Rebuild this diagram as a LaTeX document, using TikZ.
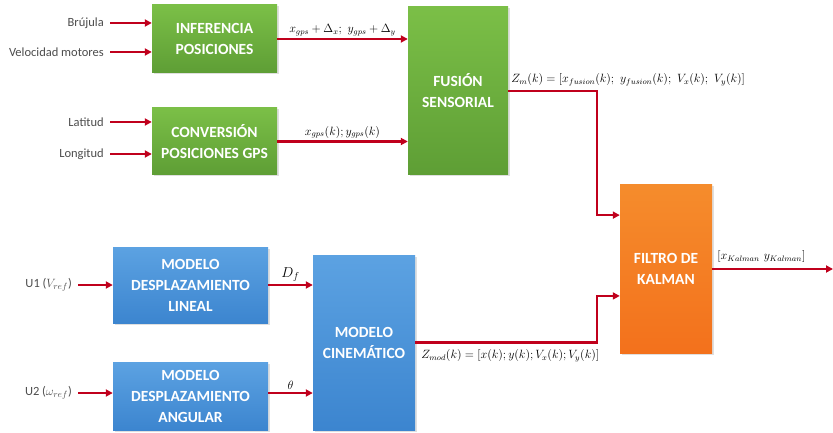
\documentclass[tikz,border=0pt]{standalone}
\usepackage{fontspec}
\setsansfont{Carlito}
\usepackage{amsmath}
\usetikzlibrary{arrows.meta, positioning, calc, shadows}
\definecolor{fusGreenTop}{HTML}{7BBF47}
\definecolor{fusGreenBot}{HTML}{5E9E35}
\definecolor{modBlueTop}{HTML}{5CA2E2}
\definecolor{modBlueBot}{HTML}{3C85CF}
\definecolor{kalOrangeTop}{HTML}{F58C2C}
\definecolor{kalOrangeBot}{HTML}{F3711C}
\definecolor{flowRed}{HTML}{C0001C}

\begin{document}
\begin{tikzpicture}[x=1pt, y=-1pt,
    block/.style={rectangle, align=center, inner sep=2pt,
      font=\sffamily\bfseries\fontsize{15.5}{21}\selectfont\color{white},
      drop shadow={shadow xshift=1.5pt, shadow yshift=-1.5pt, opacity=.25}},
    gblock/.style={block, top color=fusGreenTop, bottom color=fusGreenBot},
    bblock/.style={block, top color=modBlueTop, bottom color=modBlueBot},
    oblock/.style={block, top color=kalOrangeTop, bottom color=kalOrangeBot},
    lbl/.style={font=\sffamily\fontsize{12.5}{14}\selectfont\color{black!70}, inner sep=2pt},
    mlbl/.style={font=\fontsize{12}{14}\selectfont, inner sep=2pt},
    flow/.style={draw=flowRed, line width=2.2pt,
      -{Triangle[length=7pt, width=7pt]}}]
  \useasboundingbox (0,0) rectangle (833,433);

  \node[gblock, minimum width=125pt, minimum height=68pt] (inf) at (214.5,39) {INFERENCIA\\POSICIONES};
  \node[gblock, minimum width=125pt, minimum height=67pt] (gps) at (214.5,141.5) {CONVERSIÓN\\POSICIONES GPS};
  \node[gblock, minimum width=100pt, minimum height=168pt] (fus) at (458,91) {FUSIÓN\\SENSORIAL};
  \node[oblock, minimum width=92pt, minimum height=168pt] (kal) at (666,269) {FILTRO DE\\KALMAN};
  \node[bblock, minimum width=155pt, minimum height=76pt] (lin) at (190.5,285) {MODELO\\DESPLAZAMIENTO\\LINEAL};
  \node[bblock, minimum width=155pt, minimum height=68pt] (ang) at (190.5,396) {MODELO\\DESPLAZAMIENTO\\ANGULAR};
  \node[bblock, minimum width=102pt, minimum height=175pt] (cin) at (364,342.5) {MODELO\\CINEMÁTICO};

  \node[lbl, anchor=east] (bru) at (106,23) {Brújula};
  \node[lbl, anchor=east] (vel) at (106,52) {Velocidad motores};
  \node[lbl, anchor=east] (lat) at (106,122) {Latitud};
  \node[lbl, anchor=east] (lon) at (106,154) {Longitud};
  \node[lbl, anchor=east] (uno) at (74,285) {U1 ($V_{ref}$)};
  \node[lbl, anchor=east] (dos) at (74,393) {U2 ($\omega_{ref}$)};

  \coordinate (kin1) at ($(kal.north west)!.18!(kal.south west)$);
  \coordinate (kin2) at ($(kal.north west)!.66!(kal.south west)$);
  \coordinate (out) at (833,269);

  \draw[flow] ([xshift=4pt]bru.east) -- (bru -| inf.west);
  \draw[flow] ([xshift=4pt]vel.east) -- (vel -| inf.west);
  \draw[flow] ([xshift=4pt]lat.east) -- (lat -| gps.west);
  \draw[flow] ([xshift=4pt]lon.east) -- (lon -| gps.west);
  \draw[flow] ([xshift=4pt]uno.east) -- (uno -| lin.west);
  \draw[flow] ([xshift=4pt]dos.east) -- (dos -| ang.west);

  \draw[flow] (inf.east) -- (inf.east -| fus.west)
    node[midway, above, mlbl] {$x_{gps}+\Delta_x;\ y_{gps}+\Delta_y$};
  \draw[flow] (gps.east) -- (gps.east -| fus.west)
    node[midway, above, mlbl] {$x_{gps}(k); y_{gps}(k)$};
  \draw[flow] (lin.east) -- (lin.east -| cin.west)
    node[midway, above, mlbl, font=\fontsize{14}{16}\selectfont] {$D_f$};
  \draw[flow] (dos -| ang.east) -- (dos -| cin.west)
    node[midway, above, mlbl, font=\fontsize{13}{15}\selectfont] {$\theta$};
  \draw[flow] (fus.east) -- ++(89,0) |- (kin1);
  \draw[flow] (cin.east) -- ++(182,0) |- (kin2);
  \draw[flow] (kal.east) -- (out);

  \node[mlbl, anchor=south west] (zm) at ([xshift=1pt, yshift=3pt]fus.east)
    {$Z_m(k)=\left[x_{fusion}(k);\ y_{fusion}(k);\ V_x(k);\ V_y(k)\right]$};
  \node[mlbl, anchor=north west] (zmod) at ([xshift=4pt, yshift=-5pt]cin.east)
    {$Z_{mod}(k)=\left[x(k); y(k); V_x(k); V_y(k)\right]$};
  \node[mlbl, anchor=south west] (xk) at ([xshift=3pt, yshift=4pt]kal.east)
    {$[x_{Kalman}\ y_{Kalman}]$};
\end{tikzpicture}
\end{document}
